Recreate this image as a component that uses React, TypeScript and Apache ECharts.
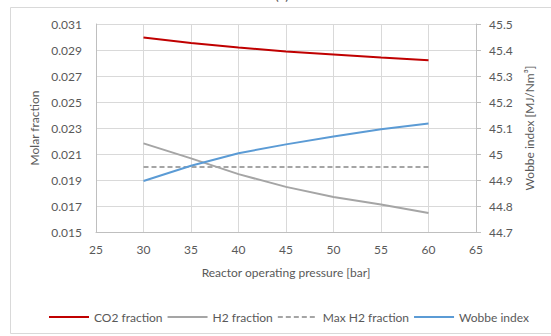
import React, { useEffect, useRef } from "react";
import * as echarts from "echarts";

const pressure = [30, 35, 40, 45, 50, 55, 60];
const co2Fraction = [0.02997, 0.02953, 0.02919, 0.02889, 0.02866, 0.02842, 0.02822];
const h2Fraction = [0.02182, 0.02066, 0.01945, 0.01847, 0.0177, 0.01711, 0.01646];
const maxH2Fraction = [0.02, 0.02, 0.02, 0.02, 0.02, 0.02, 0.02];
const wobbeIndex = [44.896, 44.955, 45.003, 45.037, 45.067, 45.095, 45.117];

const FONT = "Lato";
const TXT = "#595959";

export default function App() {
  const ref = useRef<HTMLDivElement>(null);
  useEffect(() => {
    if (!ref.current) return;
    const chart = echarts.init(ref.current, undefined, { renderer: "svg" });
    const pair = (ys: number[]) => pressure.map((x, i) => [x, ys[i]]);
    chart.setOption({
      animation: false,
      textStyle: { fontFamily: FONT },
      graphic: [
        {
          type: "rect",
          shape: { x: 10.5, y: 7.5, width: 600, height: 326 },
          style: { fill: "none", stroke: "#D9D9D9", lineWidth: 1 },
          silent: true,
        },
        {
          type: "text",
          x: 282,
          y: -13,
          style: { text: "(a)", font: `14px ${FONT}`, fill: TXT, textAlign: "center" },
          silent: true,
        },
      ],
      grid: { left: 96, right: 75, top: 24, bottom: 104 },
      legend: {
        left: 43,
        top: 306,
        itemWidth: 40,
        itemHeight: 14,
        itemGap: 4,
        itemStyle: { opacity: 0 },
        textStyle: { fontFamily: FONT, fontSize: 12, color: TXT },
        data: ["CO2 fraction", "H2 fraction", "Max H2 fraction", "Wobbe index"],
      },
      xAxis: {
        type: "value",
        min: 25,
        max: 65,
        interval: 5,
        name: "Reactor operating pressure [bar]",
        nameLocation: "middle",
        nameGap: 34,
        nameTextStyle: { fontFamily: FONT, fontSize: 12, color: TXT },
        axisLine: { show: true, lineStyle: { color: "#BFBFBF", width: 1 } },
        axisTick: { show: false },
        axisLabel: { margin: 11, fontFamily: FONT, fontSize: 12, color: TXT },
        splitLine: { show: true, lineStyle: { color: "#D9D9D9", width: 1 } },
      },
      yAxis: [
        {
          type: "value",
          min: 0.015,
          max: 0.031,
          interval: 0.002,
          name: "Molar fraction",
          nameLocation: "middle",
          nameGap: 47,
          nameTextStyle: { fontFamily: FONT, fontSize: 12, color: TXT },
          axisLine: { show: true, lineStyle: { color: "#BFBFBF", width: 1 } },
          axisTick: { show: false },
          axisLabel: {
            margin: 14,
            fontFamily: FONT,
            fontSize: 12,
            color: TXT,
            formatter: (v: number) => v.toFixed(3),
          },
          splitLine: { show: true, lineStyle: { color: "#D9D9D9", width: 1 } },
        },
        {
          type: "value",
          position: "right",
          min: 44.7,
          max: 45.5,
          interval: 0.1,
          name: "Wobbe index [MJ/Nm³]",
          nameLocation: "middle",
          nameGap: 39,
          nameTextStyle: { fontFamily: FONT, fontSize: 12, color: TXT },
          axisLine: { show: true, lineStyle: { color: "#BFBFBF", width: 1 } },
          axisTick: { show: true, length: 5, lineStyle: { color: "#BFBFBF" } },
          axisLabel: {
            margin: 13,
            fontFamily: FONT,
            fontSize: 12,
            color: TXT,
            formatter: (v: number) => String(Math.round(v * 10) / 10),
          },
          splitLine: { show: false },
        },
      ],
      series: [
        {
          name: "CO2 fraction",
          type: "line",
          yAxisIndex: 0,
          data: pair(co2Fraction),
          symbol: "none",
          lineStyle: { color: "#C00000", width: 2 },
          itemStyle: { color: "#C00000" },
        },
        {
          name: "H2 fraction",
          type: "line",
          yAxisIndex: 0,
          data: pair(h2Fraction),
          symbol: "none",
          lineStyle: { color: "#A5A5A5", width: 2 },
          itemStyle: { color: "#A5A5A5" },
        },
        {
          name: "Max H2 fraction",
          type: "line",
          yAxisIndex: 0,
          data: pair(maxH2Fraction),
          symbol: "none",
          lineStyle: { color: "#A5A5A5", width: 2, type: [5, 3] },
          itemStyle: { color: "#A5A5A5" },
        },
        {
          name: "Wobbe index",
          type: "line",
          yAxisIndex: 1,
          data: pair(wobbeIndex),
          symbol: "none",
          lineStyle: { color: "#5B9BD5", width: 2 },
          itemStyle: { color: "#5B9BD5" },
        },
      ],
    });
    return () => chart.dispose();
  }, []);
  return <div ref={ref} style={{ width: 551, height: 336, position: "absolute", left: 0, top: 0 }} />;
}
